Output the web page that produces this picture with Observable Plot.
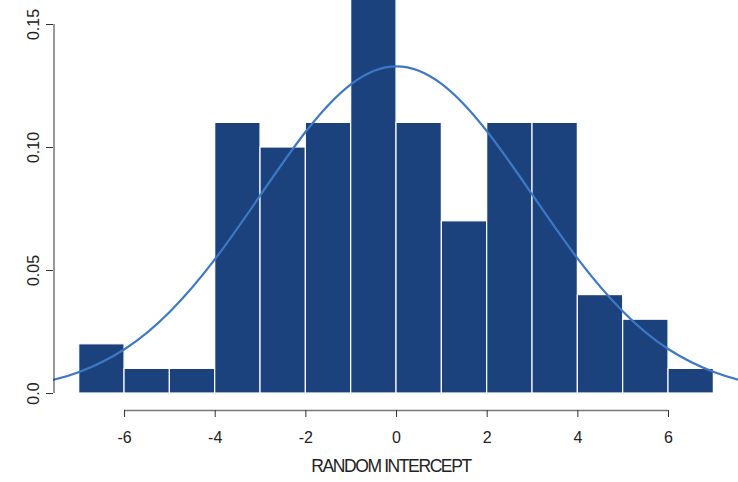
<!DOCTYPE html>
<html>
<head>
<meta charset="utf-8">
<script src="https://cdn.jsdelivr.net/npm/d3@7"></script>
<script src="https://cdn.jsdelivr.net/npm/@observablehq/plot@0.6"></script>
<style>
  html, body { margin: 0; padding: 0; background: #fff; }
  svg { font-family: "Liberation Sans", Arial, sans-serif; }
</style>
</head>
<body>
<div id="chart"></div>
<script>
// Histogram bins (density)
const binStart = [-7, -6, -5, -4, -3, -2, -1, 0, 1, 2, 3, 4, 5, 6];
const binEnd   = [-6, -5, -4, -3, -2, -1, 0, 1, 2, 3, 4, 5, 6, 7];
const density  = [0.02, 0.01, 0.01, 0.11, 0.10, 0.11, 0.16, 0.11, 0.07, 0.11, 0.11, 0.04, 0.03, 0.01];

// Fitted density curve
const curveX = [-7.6, -7, -6, -5, -4, -3, -2, -1, 0, 1, 2, 3, 4, 5, 6, 7, 7.6];
const curveY = [0.0054, 0.0087, 0.0180, 0.0332, 0.0547, 0.0807, 0.1065, 0.1258, 0.1330,
                0.1258, 0.1065, 0.0807, 0.0547, 0.0332, 0.0180, 0.0087, 0.0054];

// Tick values and labels
const xTicks = [-6, -4, -2, 0, 2, 4, 6];
const xTickLabels = ["-6", "-4", "-2", "0", "2", "4", "6"];
const yTicks = [0, 0.05, 0.10, 0.15];
const yTickLabels = ["0.0", "0.05", "0.10", "0.15"];
const xTitle = "RANDOM INTERCEPT";

const bins = binStart.map((s, i) => ({x1: s, x2: binEnd[i], y: density[i]}));
const curve = curveX.map((x, i) => ({x, y: curveY[i]}));
const xLab = xTicks.map((v, i) => ({v, t: xTickLabels[i]}));
const yLab = yTicks.map((v, i) => ({v, t: yTickLabels[i]}));

const xDom = [-7.567, 7.544];
const yDom = [0, 0.15976];

const chart = Plot.plot({
  width: 738,
  height: 482,
  marginLeft: 53,
  marginRight: 0,
  marginTop: 0,
  marginBottom: 89,
  style: {fontFamily: "Liberation Sans, Arial, sans-serif", background: "#fff"},
  x: {domain: xDom},
  y: {domain: yDom},
  marks: [
    Plot.rectY(bins, {x1: "x1", x2: "x2", y: "y", fill: "#1b427c", stroke: "#ffffff", strokeWidth: 1.2, clip: true}),
    Plot.line(curve, {x: "x", y: "y", stroke: "#3d78c6", strokeWidth: 2.2, curve: "natural", clip: true}),
    // y axis
    Plot.ruleX([xDom[0]], {y1: 0, y2: 0.15, stroke: "#333", strokeWidth: 1, dx: 0.5}),
    Plot.axisY({ticks: yTicks, tickSize: 7, tickFormat: () => "", stroke: "#333"}),
    Plot.text(yLab, {x: () => xDom[0], y: "v", text: "t", rotate: -90, dx: -20, fontSize: 16, fill: "#222"}),
    // x axis
    Plot.ruleY([0], {x1: -6, x2: 6, dy: 17, stroke: "#777", strokeWidth: 1.3}),
    Plot.axisX({ticks: xTicks, tickSize: 7, tickFormat: () => "", dy: 17, stroke: "#333"}),
    Plot.text(xLab, {x: "v", y: () => 0, text: "t", dy: 44, fontSize: 16, fill: "#222"}),
    Plot.text([xTitle], {frameAnchor: "bottom", dy: 78, dx: -5, fontSize: 17.5, fill: "#222", text: d => d})
  ]
});
document.getElementById("chart").appendChild(chart);
// compress axis title spacing like the reference
chart.querySelectorAll("text").forEach(t => {
  if (t.textContent === xTitle) t.setAttribute("letter-spacing", "-1.4");
});
</script>
</body>
</html>
